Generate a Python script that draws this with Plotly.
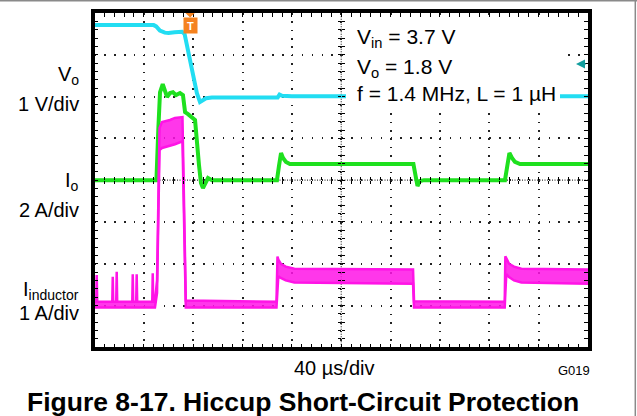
import plotly.graph_objects as go

W, H = 637, 416
FONT = "Liberation Sans, Arial, sans-serif"

# graticule frame (pixels)
FX0, FX1 = 94.5, 588.0
FY0, FY1 = 13.0, 347.3


def fx(x):
    return x / W


def fy(y):
    return 1 - y / H


# time base: 10 div x 40 us
t_range = [0, 400]
div_us = 40

# output voltage Vo (V), 1 V/div, ground at div 6
vo_t = [0, 48, 50, 53, 57, 60, 65, 71, 73, 75.6, 79.8, 83, 85.5, 87.9, 90.4, 95.2,
        148.5, 150, 152, 160, 400]
vo_v = [1.71, 1.71, 1.68, 1.58, 1.53, 1.52, 1.54, 1.55, 1.50, 1.11, 0.47, 0.08, -0.13,
        -0.08, -0.04, -0.02, -0.02, 0.05, 0.02, 0.01, 0.01]

# output current Io (A), 2 A/div, ground at div 4
io_t = [0, 50.2, 51.7, 53.1, 55.3, 57.1, 58.8, 61.2, 63.6, 66.1, 69.3, 71.7, 73.4, 75.8,
        79.0, 81.5, 84.7, 86.3, 87.9, 89.6, 92.0, 95.2, 147.9, 149.5, 151.2, 152.8, 155.2,
        158.4, 258.5, 260.6, 261.8, 263.8, 267.1, 332.7, 334.3, 336.3, 338.4, 340.8, 344.9,
        400]
io_a = [0, 0, 2.4, 4.2, 4.6, 4.21, 3.98, 4.17, 4.21, 4.07, 4.17, 4.07, 3.26, 3.16,
        3.02, 2.88, 0.72, -0.14, -0.38, -0.19, 0.1, 0, 0, 0.67, 1.30, 1.06, 0.87,
        0.77, 0.77, 0.1, -0.28, -0.04, 0, 0, 0.67, 1.30, 1.06, 0.87, 0.77,
        0.77]

# inductor current (A), 1 A/div, ground at div 1: lower / upper envelope of the trace
il_t = [0, 1.4, 1.8, 2.2, 14.4, 14.8, 15.2, 17.6, 18.0, 18.4, 30.6, 31.0, 31.4, 33.8,
        34.2, 34.6, 46.8, 47.2, 47.6, 49.0, 50.7, 52.3, 52.7, 54.7, 61.2, 65.2, 71.3,
        74.0, 147.5, 148.3, 149.0, 151.0, 155.0, 162.0, 258.2, 259.0, 332.5, 333.0,
        333.8, 336.0, 340.0, 346.0, 400]
il_lo = [-0.05, -0.05, -0.05, -0.05, -0.05, -0.05, -0.05, -0.05, -0.05, -0.05, -0.05,
         -0.05, -0.05, -0.05, -0.05, -0.05, -0.05, -0.05, -0.05, -0.05, 0.3, 3.6, 3.72,
         3.77, 3.82, 3.86, 3.93, -0.05, -0.05, 0.3, 0.7, 0.66, 0.6, 0.55, 0.52, -0.05,
         -0.05, 0.3, 0.75, 0.68, 0.6, 0.55, 0.52]
il_hi = [0.09, 0.09, 0.73, 0.09, 0.09, 0.69, 0.09, 0.09, 0.81, 0.09, 0.09, 0.75, 0.09,
         0.09, 0.75, 0.09, 0.09, 0.77, 0.09, 0.09, 0.6, 4.1, 4.25, 4.39, 4.44, 4.49,
         4.51, 0.12, 0.09, 1.17, 1.1, 1.0, 0.93, 0.88, 0.86, 0.1, 0.09, 1.18, 1.12, 1.0,
         0.93, 0.88, 0.86]

trigger_t = 77.5

CYAN = "#22DDF2"
GREEN = "#1EE01E"
MAGENTA = "#FF14E6"
ORANGE = "#F5821F"
TEAL = "#129E9E"

fig = go.Figure()

# empty traces that attach the graticule and crosshair axes
fig.add_trace(go.Scatter(x=[None], y=[None], xaxis="x", yaxis="y", mode="lines",
                         hoverinfo="skip"))
fig.add_trace(go.Scatter(x=[None], y=[None], xaxis="x2", yaxis="y", mode="lines",
                         hoverinfo="skip"))
fig.add_trace(go.Scatter(x=[None], y=[None], xaxis="x3", yaxis="y", mode="lines",
                         hoverinfo="skip"))
fig.add_trace(go.Scatter(x=[None], y=[None], xaxis="x", yaxis="y5", mode="lines",
                         hoverinfo="skip"))
fig.add_trace(go.Scatter(x=[None], y=[None], xaxis="x", yaxis="y6", mode="lines",
                         hoverinfo="skip"))

fig.add_trace(go.Scatter(x=io_t, y=io_a, xaxis="x", yaxis="y3", mode="lines",
                         line=dict(color=GREEN, width=4), hoverinfo="skip"))
fig.add_trace(go.Scatter(x=il_t, y=il_lo, xaxis="x", yaxis="y4", mode="lines",
                         line=dict(color=MAGENTA, width=2.5), hoverinfo="skip"))
fig.add_trace(go.Scatter(x=il_t, y=il_hi, xaxis="x", yaxis="y4", mode="lines",
                         fill="tonexty", fillcolor="rgba(255,20,230,0.85)",
                         line=dict(color=MAGENTA, width=2.5), hoverinfo="skip"))
fig.add_trace(go.Scatter(x=vo_t, y=vo_v, xaxis="x", yaxis="y2", mode="lines",
                         line=dict(color=CYAN, width=4), hoverinfo="skip"))

dom_x = [fx(FX0), fx(FX1)]
dom_y = [fy(FY1), fy(FY0)]
cx_paper = fx((FX0 + FX1) / 2)
cy_paper = fy((FY0 + FY1) / 2)
px_per_div_x = (FX1 - FX0) / 10
px_per_div_y = (FY1 - FY0) / 8

frame = dict(showline=True, linecolor="black", linewidth=3.5, mirror="allticks",
             ticks="inside", ticklen=4, tickcolor="black", tickwidth=1,
             showticklabels=False, zeroline=False, showgrid=True,
             gridcolor="#222", gridwidth=1.5, fixedrange=True)

cross = dict(anchor="free", showline=False, showgrid=False, zeroline=False,
             showticklabels=False, ticks="inside", ticklen=3, tickcolor="black",
             fixedrange=True)

fig.update_layout(
    width=W, height=H, margin=dict(l=0, r=0, t=0, b=0),
    paper_bgcolor="white", plot_bgcolor="white", showlegend=False,
    font=dict(family=FONT, color="black"),
    xaxis=dict(domain=dom_x, range=t_range, dtick=div_us,
               griddash="1.5px,%.2fpx" % (px_per_div_y / 5 - 1.5),
               minor=dict(dtick=div_us / 5, ticks="inside", ticklen=3,
                          tickcolor="black"),
               **frame),
    yaxis=dict(domain=dom_y, range=[0, 8], dtick=1,
               griddash="1.5px,%.2fpx" % (px_per_div_x / 5 - 1.5),
               minor=dict(dtick=0.2, ticks="inside", ticklen=3, tickcolor="black"),
               **frame),
    # channel scales
    yaxis2=dict(overlaying="y", range=[-6, 2], visible=False, fixedrange=True),
    yaxis3=dict(overlaying="y", range=[-8, 8], visible=False, fixedrange=True),
    yaxis4=dict(overlaying="y", range=[-1, 7], visible=False, fixedrange=True),
    # centre crosshair tick marks
    xaxis2=dict(overlaying="x", range=t_range, position=cy_paper, side="bottom",
                dtick=div_us, minor=dict(dtick=div_us / 5, ticks="inside", ticklen=3,
                                         tickcolor="black"), **cross),
    xaxis3=dict(overlaying="x", range=t_range, position=cy_paper, side="top",
                dtick=div_us, minor=dict(dtick=div_us / 5, ticks="inside", ticklen=3,
                                         tickcolor="black"), **cross),
    yaxis5=dict(overlaying="y", range=[0, 8], position=cx_paper, side="left",
                dtick=1, minor=dict(dtick=0.2, ticks="inside", ticklen=3,
                                    tickcolor="black"), **cross),
    yaxis6=dict(overlaying="y", range=[0, 8], position=cx_paper, side="right",
                dtick=1, minor=dict(dtick=0.2, ticks="inside", ticklen=3,
                                    tickcolor="black"), **cross),
)

shapes = [
    # dense dotted centre crosshair
    dict(type="line", xref="paper", yref="paper", x0=dom_x[0], x1=dom_x[1],
         y0=cy_paper, y1=cy_paper, line=dict(color="#333", width=1.2, dash="1px,1.5px"),
         layer="below"),
    dict(type="line", xref="paper", yref="paper", x0=cx_paper, x1=cx_paper,
         y0=dom_y[0], y1=dom_y[1], line=dict(color="#333", width=1.2, dash="1px,1.5px"),
         layer="below"),
    # white panel behind the test conditions
    dict(type="rect", xref="paper", yref="paper", x0=fx(346), x1=fx(560),
         y0=fy(108), y1=fy(18), fillcolor="white", line=dict(width=0), layer="above"),
    # trigger marker pointer
    dict(type="path", xref="x", yref="paper",
         path="M %.2f %.5f L %.2f %.5f L %.2f %.5f Z" % (
             trigger_t - 3.8, fy(13), trigger_t + 3.8, fy(13), trigger_t, fy(17.5)),
         fillcolor=ORANGE, line=dict(width=0), layer="above"),
    # page frame
    dict(type="line", xref="paper", yref="paper", x0=0, x1=1, y0=fy(0.7), y1=fy(0.7),
         line=dict(color="#8a8a8a", width=1.5)),
    dict(type="line", xref="paper", yref="paper", x0=fx(635.3), x1=fx(635.3), y0=0,
         y1=1, line=dict(color="#8a8a8a", width=1.5)),
]
fig.update_layout(shapes=shapes)

ann = []


def label(text, x, y, size=20, xanchor="left", yanchor="middle", **kw):
    ann.append(dict(text=text, x=fx(x), y=fy(y), xref="paper", yref="paper",
                    xanchor=xanchor, yanchor=yanchor, showarrow=False,
                    font=dict(family=FONT, size=size, color="black"), **kw))


# channel labels
label("V<sub>o</sub>", 81, 75, xanchor="right")
label("1 V/div", 81, 104, xanchor="right")
label("I<sub>o</sub>", 81, 181, xanchor="right")
label("2 A/div", 81, 210, xanchor="right")
label("I<sub>inductor</sub>", 81, 290, xanchor="right")
label("1 A/div", 81, 313, xanchor="right")

# test conditions
label("V<sub>in</sub> = 3.7 V", 355, 38, size=21)
label("V<sub>o</sub> = 1.8 V", 355, 68, size=21)
label("f = 1.4 MHz, L = 1 µH", 355, 94, size=21)

# time base and graph id
label("40 µs/div", 333.5, 368, size=20, xanchor="center")
label("G019", 574, 370, size=13, xanchor="center")

# caption
label("<b>Figure 8-17. Hiccup Short-Circuit Protection</b>", 302.5, 402, size=26.5,
      xanchor="center")

# trigger marker
ann.append(dict(text="<b>T</b>", x=trigger_t, y=fy(25.5), xref="x", yref="paper",
                xanchor="center", yanchor="middle", showarrow=False,
                font=dict(family=FONT, size=11, color="white"), bgcolor=ORANGE,
                borderpad=1, width=11, height=13))

# reference level arrow on the right edge
ann.append(dict(text="", x=fx(576), y=fy(64), xref="paper", yref="paper",
                showarrow=True, ax=11, ay=0, arrowhead=2, arrowsize=1, arrowwidth=1.8,
                arrowcolor=TEAL))

fig.update_layout(annotations=ann)

fig.write_html("out.html")
